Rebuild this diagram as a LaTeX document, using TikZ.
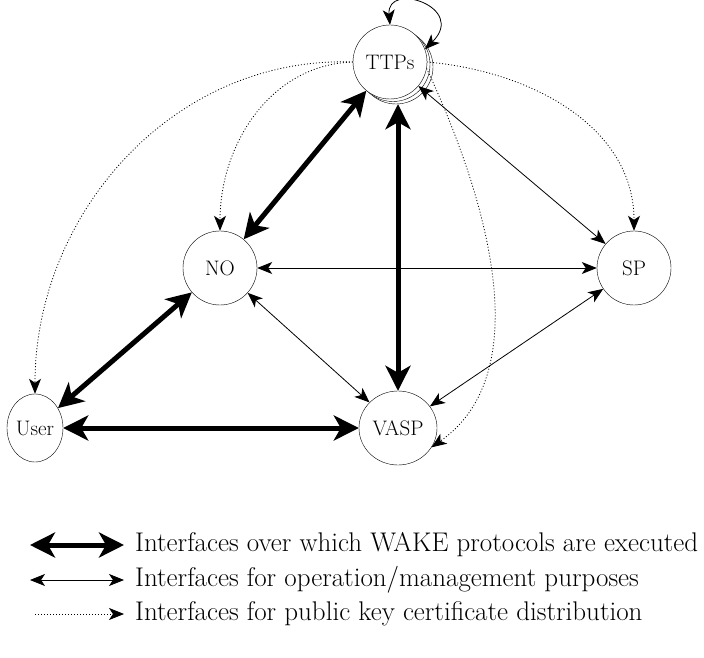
\documentclass[tikz,border=0pt]{standalone}
\usetikzlibrary{arrows.meta,shapes.geometric,shadows}

\begin{document}
\begin{tikzpicture}[x=1pt,y=1pt,
  main node/.style={circle,draw,fill=white,minimum size=74pt,inner sep=0pt,
    font=\fontsize{21}{24}\selectfont},
  wake/.style={{Stealth[length=25pt,width=25pt,inset=7pt]}-{Stealth[length=25pt,width=25pt,inset=7pt]},
    line width=5pt},
  mgmt/.style={{Stealth[length=15pt,width=12pt,inset=4pt]}-{Stealth[length=15pt,width=12pt,inset=4pt]},
    line width=0.8pt},
  cert/.style={-{Stealth[length=15pt,width=12pt,inset=4pt]},line width=0.8pt,
    dash pattern=on 1pt off 2pt},
  legend text/.style={anchor=west,inner sep=0pt,font=\fontsize{27}{30}\selectfont}]

  \useasboundingbox (0,0) rectangle (704,657);

  \node[main node,double copy shadow={shadow xshift=3pt,shadow yshift=-2.5pt,fill=white,draw}] (ttp) at (390,595) {TTPs};
  \node[main node] (no) at (220,389) {NO};
  \node[main node] (sp) at (634,389) {SP};
  \node[main node,ellipse,minimum width=56pt,minimum height=68pt] (user) at (35,229) {User};
  \node[main node,ellipse,minimum width=78pt,minimum height=74pt] (vasp) at (398,229) {VASP};

  \path
    (ttp) edge[wake] (no)
    (no) edge[wake] (user)
    (user) edge[wake] (vasp)
    (vasp.north) edge[wake] ([yshift=-5pt]vasp.north |- ttp.south)
    (no) edge[mgmt] (sp)
    (ttp) edge[mgmt] (sp)
    (no) edge[mgmt] (vasp)
    (sp) edge[mgmt] (vasp)
    ;
  \draw[mgmt] (ttp.north) .. controls +(95:44) and +(45:60) .. (ttp.20);
  \path
    (ttp.west) edge[cert] [out=182,in=90] (no.north)
    (ttp.west) edge[cert] [out=178,in=90] (user.north)
    (ttp.east) edge[cert] [out=-5,in=90] (sp.north)
    (ttp.-10) edge[cert] [out=-65,in=35,looseness=0.9] (vasp.-30)
    ;

  % legend
  \coordinate (w1) at (30,112);
  \coordinate (w2) at (124,112);
  \coordinate (m1) at (30,77);
  \coordinate (m2) at (124,77);
  \coordinate (c1) at (35,43);
  \coordinate (c2) at (124,43);
  \draw[wake] (w1) -- (w2);
  \draw[mgmt] (m1) -- (m2);
  \draw[cert] (c1) -- (c2);
  \node[legend text] (lw) at (135,112) {Interfaces over which WAKE protocols are executed};
  \node[legend text] (lm) at (135,77) {Interfaces for operation/management purposes};
  \node[legend text] (lc) at (135,43) {Interfaces for public key certificate distribution};
\end{tikzpicture}
\end{document}
